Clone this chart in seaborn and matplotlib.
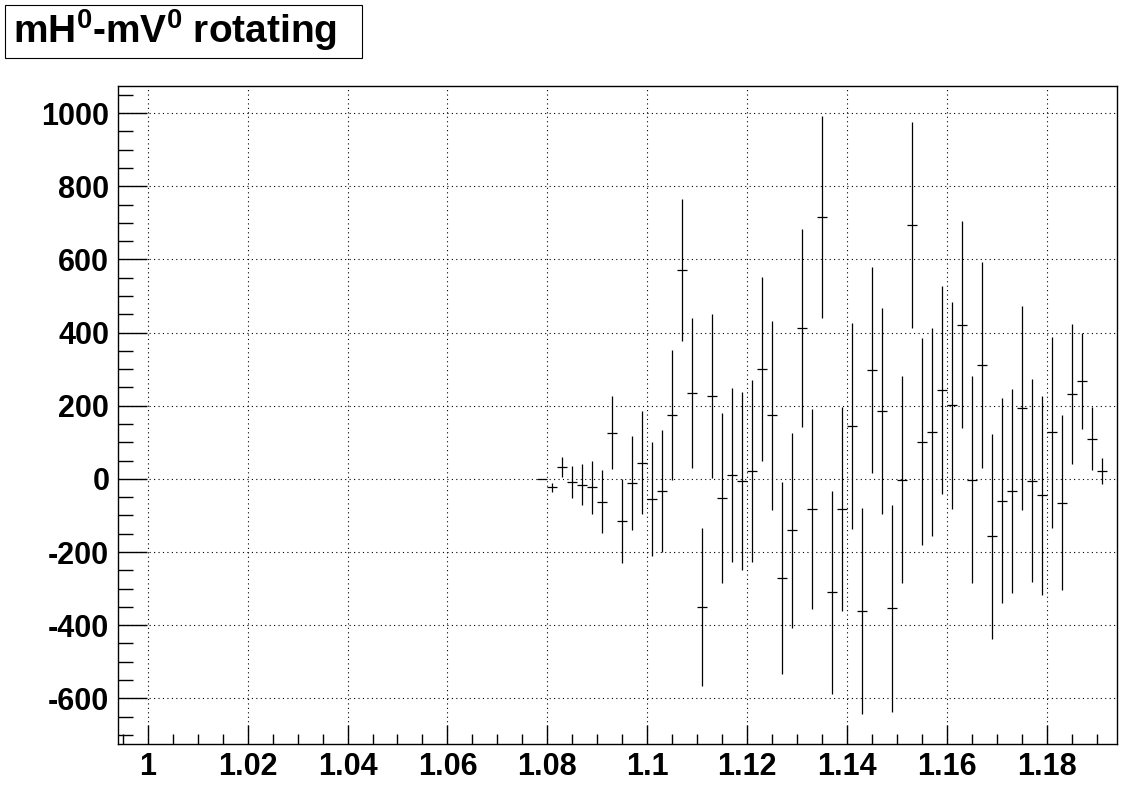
import numpy as np
import pandas as pd
import matplotlib
matplotlib.use("Agg")
import matplotlib.pyplot as plt
import seaborn as sns
from matplotlib.patches import Rectangle
from matplotlib.ticker import MultipleLocator, FixedLocator, FixedFormatter

# ==============================
# DATA
# ==============================
bin_lo = 0.994
bin_width = 0.002
first_bin = 42  # first filled bin index
values = [0, -23, 33, -8, -16, -23, -63, 126, -115, -12,
          44, -54, -33, 174, 571, 234, -350, 226, -52, 11,
          -5, 22, 300, 174, -271, -141, 413, -82, 717, -310,
          -82, 145, -361, 297, 185, -354, -2, 694, 102, 129,
          243, 201, 422, -2, 311, -157, -60, -33, 193, -5,
          -45, 127, -65, 232, 268, 110, 22]
errors = [0, 13, 28, 43, 56, 72, 86, 100, 114, 128,
          141, 156, 168, 177, 193, 205, 215, 224, 232, 238,
          243, 248, 252, 258, 263, 267, 270, 273, 276, 278,
          279, 281, 281, 282, 282, 282, 283, 282, 283, 284,
          283, 283, 282, 282, 282, 281, 280, 280, 279, 278,
          272, 262, 240, 191, 132, 86, 35]
x_ticks = [1.0, 1.02, 1.04, 1.06, 1.08, 1.1, 1.12, 1.14, 1.16, 1.18]
x_tick_labels = ["1", "1.02", "1.04", "1.06", "1.08", "1.1", "1.12", "1.14", "1.16", "1.18"]
y_ticks = [-600, -400, -200, 0, 200, 400, 600, 800, 1000]
y_tick_labels = ["-600", "-400", "-200", "0", "200", "400", "600", "800", "1000"]
title = r"mH$^{0}$-mV$^{0}$ rotating"

centers = bin_lo + bin_width * (np.arange(len(values)) + first_bin + 0.5)
df = pd.DataFrame({"x": centers, "y": values, "err": errors})

# ==============================
# STYLE
# ==============================
sns.set_theme(style="ticks")
plt.rcParams["font.family"] = ["Liberation Sans", "DejaVu Sans"]
plt.rcParams["font.weight"] = "bold"
plt.rcParams["mathtext.default"] = "regular"
plt.rcParams["axes.unicode_minus"] = False
plt.rcParams["text.color"] = "black"

fig = plt.figure(figsize=(11.21, 7.85), dpi=100)
ax = fig.add_axes([0.105, 0.0526, 0.8914, 0.8378])

# points with horizontal bin-width bars and vertical error bars
ax.errorbar(df["x"], df["y"], xerr=bin_width / 2, yerr=df["err"],
            fmt="none", ecolor="black", elinewidth=0.9, capsize=0)

ax.set_xlim(0.994, 1.194)
ax.set_ylim(-724, 1074)

ax.xaxis.set_major_locator(FixedLocator(x_ticks))
ax.xaxis.set_major_formatter(FixedFormatter(x_tick_labels))
ax.xaxis.set_minor_locator(MultipleLocator(0.005))
ax.yaxis.set_major_locator(FixedLocator(y_ticks))
ax.yaxis.set_major_formatter(FixedFormatter(y_tick_labels))
ax.yaxis.set_minor_locator(MultipleLocator(50))

ax.grid(True, which="major", color="black", linestyle=(0, (1, 3)), linewidth=0.8)
ax.tick_params(axis="both", which="both", direction="in", color="black",
               labelcolor="black", top=False, right=False, labelsize=22, width=1)
ax.tick_params(axis="x", which="major", length=14, pad=6)
ax.tick_params(axis="x", which="minor", length=7)
ax.tick_params(axis="y", which="major", length=21, pad=6)
ax.tick_params(axis="y", which="minor", length=11)
for lab in ax.get_xticklabels() + ax.get_yticklabels():
    lab.set_fontweight("bold")
for side in ["top", "right", "bottom", "left"]:
    ax.spines[side].set_visible(True)
    ax.spines[side].set_color("black")
    ax.spines[side].set_linewidth(1)
ax.set_xlabel("")
ax.set_ylabel("")

# title box, ROOT style
fig.add_artist(Rectangle((5 / 1121, 1 - 58 / 785), 357 / 1121, 53 / 785,
                         transform=fig.transFigure, fill=False,
                         edgecolor="black", linewidth=0.8))
fig.text(13 / 1121, 1 - 43 / 785, title, fontsize=28, fontweight="bold",
         color="black", ha="left", va="baseline")

fig.savefig("out.png", dpi=100)
